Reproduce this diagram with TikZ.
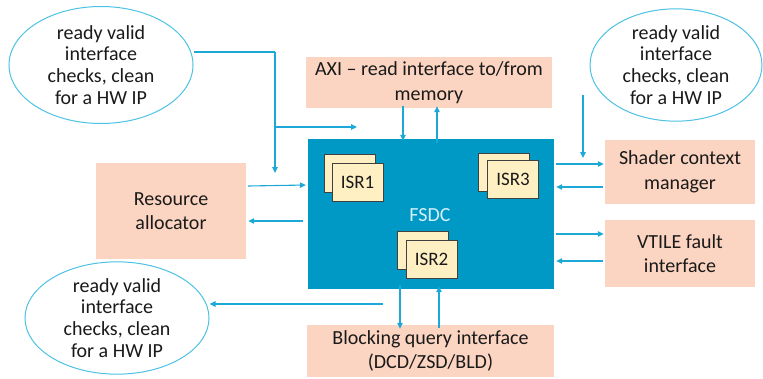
\documentclass[tikz,border=0pt]{standalone}
\usepackage{fontspec}
\setmainfont{Carlito}
\usetikzlibrary{arrows.meta,calc,shapes.geometric}
\definecolor{corecol}{HTML}{0099C6}
\definecolor{peach}{HTML}{FBD5C1}
\definecolor{isrfill}{HTML}{FFF0C4}
\definecolor{wire}{HTML}{1DA9D8}
\definecolor{ringcol}{HTML}{4CC2E4}
\definecolor{ink}{HTML}{1A1A1A}
\definecolor{coretext}{HTML}{D4F0F8}
\tikzset{
  peachbox/.style={rectangle,fill=peach,draw=none,align=center,text=ink,
    font=\fontsize{20}{24.5}\selectfont,inner sep=0pt},
  bubble/.style={ellipse,draw=ringcol,line width=1pt,fill=white,align=center,
    text=ink,font=\fontsize{20}{21.8}\selectfont,inner sep=0pt},
  isrbox/.style={rectangle,draw=black!75,line width=0.8pt,fill=isrfill,
    minimum width=51pt,minimum height=38pt,inner sep=0pt,text=ink,
    font=\fontsize{19}{22}\selectfont},
  arr/.style={draw=wire,line width=1.1pt,-{Triangle[length=6pt,width=5.5pt]}},
  wireline/.style={draw=wire,line width=1.1pt}
}
\begin{document}
\begin{tikzpicture}[x=1pt,y=-1pt]
\useasboundingbox (0,0) rectangle (763,378);

% central block
\node[rectangle,fill=corecol,minimum width=246pt,minimum height=150pt,inner sep=0pt]
  (fsdc) at (431,214) {};
\node[text=coretext,font=\fontsize{20}{22}\selectfont] (fsdclabel) at (430,215) {FSDC};

% interrupt service routine stacks
\node[isrbox] (isr1b) at (350,173) {};
\node[isrbox] (isr1) at (357.5,182.5) {ISR1};
\node[isrbox] (isr3b) at (503.5,172) {};
\node[isrbox] (isr3) at (513,179.5) {ISR3};
\node[isrbox] (isr2b) at (422.5,250) {};
\node[isrbox] (isr2) at (431.5,259.5) {ISR2};

% surrounding interfaces
\node[peachbox,minimum width=246pt,minimum height=51pt] (axi) at (429,82.5)
  {AXI -- read interface to/from\\memory};
\node[peachbox,minimum width=150pt,minimum height=64pt] (shader) at (680,172)
  {Shader context\\manager};
\node[peachbox,minimum width=150pt,minimum height=67pt] (vtile) at (680,253.5)
  {VTILE fault\\interface};
\node[peachbox,minimum width=150pt,minimum height=96pt] (res) at (171,211)
  {Resource\\allocator};
\node[peachbox,minimum width=247pt,minimum height=52pt] (block) at (430.5,351)
  {Blocking query interface\\(DCD/ZSD/BLD)};

% checker bubbles
\node[bubble,minimum width=184pt,minimum height=117pt] (e1) at (101,65)
  {ready valid\\interface\\checks, clean\\for a HW IP};
\node[bubble,minimum width=172pt,minimum height=106pt] (e2) at (676,65)
  {ready valid\\interface\\checks, clean\\for a HW IP};
\node[bubble,minimum width=184pt,minimum height=107pt] (e3) at (117,318)
  {ready valid\\interface\\checks, clean\\for a HW IP};

% checker taps
\coordinate (tapcorner) at (275,52);
\coordinate (tapsplit) at (275,127);
\coordinate (tapleft) at (275,173);
\coordinate (taptop) at (357,127);
\draw[wireline] (e1.east |- tapcorner) -- (tapcorner);
\draw[arr] (tapcorner) -- (tapleft);
\draw[arr] (tapsplit) -- (taptop);
\coordinate (tapright) at (583,158);
\draw[arr] (583,95) -- (tapright);
\coordinate (tapbottom) at (383,304);
\draw[arr] (tapbottom) -- (e3.east |- tapbottom);

% AXI
\draw[arr] ([xshift=-26pt,yshift=2pt]axi.south) -- ([xshift=-28pt,yshift=-2pt]fsdc.north);
\draw[arr] ([xshift=6pt,yshift=-4pt]fsdc.north) -- ([xshift=8pt,yshift=2pt]axi.south);

% resource allocator
\draw[arr] ([xshift=2pt]res.east |- 0,186) -- ([xshift=-2pt]fsdc.west |- 0,185);
\draw[arr] ([xshift=-5pt]fsdc.west |- 0,221) -- ([xshift=2pt]res.east |- 0,221);

% shader context manager
\draw[arr] ([xshift=2pt]fsdc.east |- 0,164) -- ([xshift=-1pt]shader.west |- 0,164);
\draw[arr] ([xshift=-2pt]shader.west |- 0,187) -- ([xshift=2pt]fsdc.east |- 0,187);

% VTILE fault interface
\draw[arr] ([xshift=2pt]fsdc.east |- 0,234) -- ([xshift=-1pt]vtile.west |- 0,234);
\draw[arr] ([xshift=-2pt]vtile.west |- 0,261) -- ([xshift=2pt]fsdc.east |- 0,261);

% blocking query interface
\draw[arr] ([xshift=-31pt,yshift=4pt]fsdc.south) -- ([xshift=-30.5pt,yshift=-4pt]block.north);
\draw[arr] ([xshift=8.5pt,yshift=-3pt]block.north) -- ([xshift=8pt,yshift=3pt]fsdc.south);
\end{tikzpicture}
\end{document}
